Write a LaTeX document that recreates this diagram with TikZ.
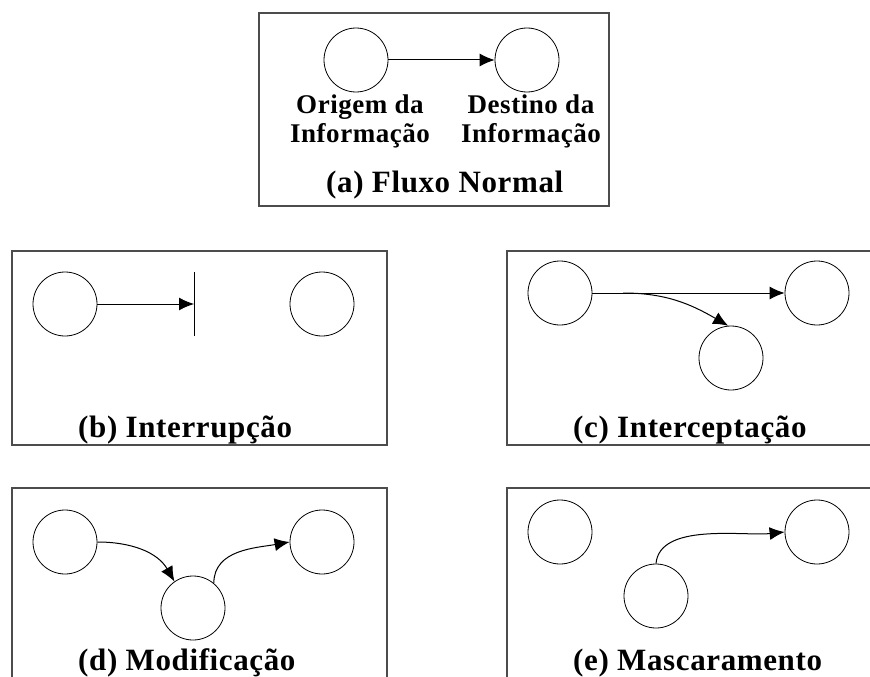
\documentclass[tikz,border=0pt]{standalone}
\usepackage{fontspec}
\setmainfont{Liberation Serif}
\newfontfamily\largefont[LetterSpace=2]{Liberation Serif}
\usetikzlibrary{arrows.meta}

\tikzset{
  etat/.style={circle,draw,line width=0.8pt,minimum size=64pt,inner sep=0pt},
  cadre/.style={draw=black!70,line width=1.5pt},
  fleche/.style={line width=1pt,-{Latex[length=15pt,width=13pt]}},
  legende/.style={anchor=base west,inner sep=0pt,font=\largefont\fontsize{31}{36}\selectfont\bfseries},
  etiquette/.style={anchor=north,align=center,inner sep=0pt,font=\largefont\fontsize{27}{29}\selectfont\bfseries}
}

\begin{document}
\begin{tikzpicture}[x=1pt,y=-1pt]
    \useasboundingbox (0,0) rectangle (870,677);
    \clip (0,0) rectangle (870,677);

    % Les cinq cadres
    \draw[cadre] (259,13) rectangle (609,206);
    \draw[cadre] (12,251) rectangle (387,445);
    \draw[cadre] (507,251) rectangle (880,445);
    \draw[cadre] (12,488) rectangle (387,690);
    \draw[cadre] (507,488) rectangle (880,690);

    % (a) Fluxo normal
    \node[etat] (ao) at (356,60) {};
    \node[etat] (ad) at (527,60) {};
    \draw[fleche] (ao.east) -- (ad.west);
    \node[etiquette] (aot) at (360,95) {Origem da\\Informação};
    \node[etiquette] (adt) at (531,95) {Destino da\\Informação};
    \node[legende] (la) at (326,192) {(a) Fluxo Normal};

    % (b) Interrupcao
    \node[etat] (bo) at (65,304) {};
    \node[etat] (bd) at (322,304) {};
    \coordinate (bb) at (194,304);
    \draw[line width=1pt] (bb) ++(0,-32) -- ++(0,64);
    \draw[fleche] (bo.east) -- (bb);
    \node[legende] (lb) at (78,437) {(b) Interrupção};

    % (c) Interceptacao
    \node[etat] (co) at (560,293) {};
    \node[etat] (cd) at (817,293) {};
    \node[etat] (ci) at (731,358) {};
    \coordinate (cs) at (623,293);
    \draw[fleche] (co.east) -- (cd.west);
    \draw[fleche] (cs) to[out=0,in=150] (ci.95);
    \node[legende] (lc) at (573,437) {(c) Interceptação};

    % (d) Modificacao
    \node[etat] (do) at (65,542) {};
    \node[etat] (dd) at (322,542) {};
    \node[etat] (di) at (193,608) {};
    \draw[fleche] (do.east) to[out=0,in=120] (di.125);
    \draw[fleche] (di.50) to[out=90,in=190] (dd.west);
    \node[legende] (ld) at (78,670) {(d) Modificação};

    % (e) Mascaramento
    \node[etat] (eo) at (560,532) {};
    \node[etat] (ed) at (817,532) {};
    \node[etat] (ei) at (656,596) {};
    \draw[fleche] (ei.north) to[out=85,in=186,looseness=0.8] (ed.west);
    \node[legende] (le) at (573,670) {(e) Mascaramento};
\end{tikzpicture}
\end{document}
